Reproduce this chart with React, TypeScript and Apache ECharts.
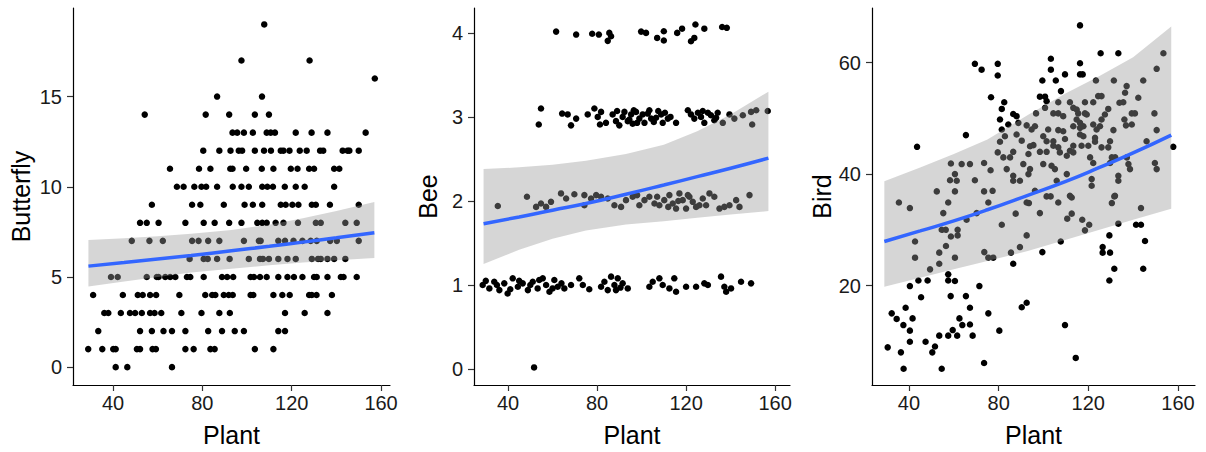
import React, { useEffect, useRef } from "react";
import * as echarts from "echarts";

// ---------- data ----------
const plantTicks = [40, 80, 120, 160];
const butterflyTicks = [0, 5, 10, 15];
const beeTicks = [0, 1, 2, 3, 4];
const birdTicks = [20, 40, 60];

const butterflyPoints: [number, number][] = [
  [107.7, 19], [97.5, 17], [128, 17], [157.2, 16], [86.6, 15], [106.7, 15],
  [54.2, 14], [81.5, 14], [92, 14], [103.5, 14], [109.8, 14],
  [93.5, 13], [95.6, 13], [98.6, 13], [102.6, 13], [108.8, 13], [110.6, 13], [112.5, 13], [121.8, 13], [128.9, 13], [136, 13], [153.1, 13],
  [80.4, 12], [87.6, 12], [92.6, 12], [96.3, 12], [97.8, 12], [103.5, 12], [107.6, 12], [110.7, 12], [115.1, 12], [116.3, 12], [119, 12], [123.6, 12], [126.7, 12], [132.7, 12], [134.1, 12], [142.8, 12], [145, 12], [145.8, 12], [150, 12],
  [65.5, 11], [78.5, 11], [83.6, 11], [92.5, 11], [93.5, 11], [99.6, 11], [106.6, 11], [111.8, 11], [119.6, 11], [122.6, 11], [127.8, 11], [130, 11], [139, 11], [141.3, 11],
  [68.6, 10], [71.6, 10], [76.4, 10], [79.6, 10], [81.7, 10], [86.6, 10], [93.6, 10], [97.5, 10], [100.8, 10], [106.8, 10], [109.1, 10], [111.6, 10], [116.9, 10], [121.8, 10], [125.8, 10], [139, 10],
  [57.4, 9], [75.4, 9], [79.1, 9], [89.6, 9], [98.9, 9], [102.6, 9], [106.8, 9], [115.1, 9], [117.3, 9], [120.3, 9], [123, 9], [129, 9], [130.8, 9], [137.1, 9], [150, 9],
  [52.1, 8], [55.1, 8], [60.4, 8], [72.4, 8], [80.6, 8], [85.5, 8], [92, 8], [97.5, 8], [104.6, 8], [106.8, 8], [108.8, 8], [112.8, 8], [116.3, 8], [122.8, 8], [130.8, 8], [133, 8], [144, 8], [149.1, 8],
  [48.4, 7], [56.3, 7], [62.3, 7], [75.4, 7], [78.3, 7], [82.6, 7], [87.6, 7], [98.6, 7], [105.3, 7], [106.1, 7], [114, 7], [117, 7], [120.8, 7], [124.8, 7], [128.5, 7], [131.2, 7], [137.2, 7], [140.2, 7], [150, 7],
  [74.3, 6], [80.6, 6], [82.4, 6], [86.6, 6], [92.2, 6], [100.8, 6], [105.8, 6], [107.1, 6], [109.8, 6], [114, 6], [118.1, 6], [121.8, 6], [129, 6], [131.8, 6], [133, 6], [136, 6], [139, 6], [144, 6],
  [39.1, 5], [42.1, 5], [55.1, 5], [59.6, 5], [60.4, 5], [63.4, 5], [65.6, 5], [67.9, 5], [73.1, 5], [74.6, 5], [80.6, 5], [88.8, 5], [91.1, 5], [93.8, 5], [101.6, 5], [103.1, 5], [105.8, 5], [108.8, 5], [114, 5], [118.1, 5], [121, 5], [124.8, 5], [130, 5], [131.2, 5], [136, 5], [142, 5], [143.2, 5], [149.1, 5],
  [31.1, 4], [44.4, 4], [51.1, 4], [53.3, 4], [56.6, 4], [59.3, 4], [69.7, 4], [81.3, 4], [84.4, 4], [85.8, 4], [89.6, 4], [91.8, 4], [93.6, 4], [101.6, 4], [102.8, 4], [111.8, 4], [115.8, 4], [119.1, 4], [127.8, 4], [129, 4], [131.1, 4], [138, 4],
  [36.1, 3], [37.9, 3], [43.5, 3], [47.6, 3], [49.9, 3], [52.9, 3], [56.6, 3], [58.6, 3], [61.6, 3], [70.6, 3], [79.6, 3], [87.6, 3], [92.3, 3], [117, 3], [125.8, 3], [136, 3],
  [33.4, 2], [52.1, 2], [57.4, 2], [62.6, 2], [66.4, 2], [72.4, 2], [82.6, 2], [88.8, 2], [94.5, 2], [98.6, 2], [114, 2], [117, 2],
  [28.9, 1], [35.2, 1], [40.1, 1], [41.2, 1], [50.7, 1], [52.1, 1], [57.7, 1], [59.2, 1], [72.4, 1], [76.1, 1], [83.6, 1], [85.5, 1], [103.5, 1], [111.8, 1],
  [41.2, 0], [46.4, 0], [66.4, 0],
];

const beePoints: [number, number][] = [
  [61.6, 4.015], [70.6, 3.98], [77.8, 3.99], [80.8, 3.98], [85.5, 4.0], [86.3, 3.96], [84.8, 3.905], [99.8, 4.015], [102, 4.0], [107, 3.94], [110, 4.02], [110, 3.91], [116, 4.0], [118.2, 4.05], [122.2, 3.9], [123.7, 3.94], [124.2, 4.1], [128.2, 4.05], [136.2, 4.07], [138.3, 4.06],
  [54.8, 3.1], [53.8, 2.91], [64.3, 3.04], [66.8, 3.03], [68.3, 2.9], [70.6, 2.98], [75.8, 3.03], [78.8, 3.1], [80.3, 3.0], [81.8, 3.06], [81.3, 2.91], [84, 2.93], [87, 3.03], [88.5, 2.95], [90, 2.9], [91.5, 3.0], [92.3, 3.06], [93.8, 2.95], [95.3, 3.03], [96, 2.92], [97.5, 3.06], [99, 2.98], [100.5, 3.03], [101.3, 2.93], [102.8, 3.04], [104.3, 2.98], [106.5, 2.99], [108.8, 3.03], [109.5, 2.93], [111.8, 2.98], [115.5, 2.93], [120.8, 3.08], [122.2, 3.03], [123.7, 2.98], [125.3, 3.05], [126.7, 3.0], [128.2, 2.93], [129.8, 3.05], [131.2, 3.02], [132.7, 2.96], [134.2, 3.05], [136.5, 2.93], [139.5, 3.03], [141.7, 2.98], [145.5, 3.02], [149.2, 3.06], [149.7, 2.91], [151.5, 3.08], [156.7, 3.07], [96.5, 3.08], [98, 2.93], [103.5, 3.08], [105.5, 2.94], [107.5, 3.07], [110.5, 3.05], [113, 3.0], [89, 3.07], [94.5, 2.97], [127.5, 3.07], [133.5, 2.99],
  [35.4, 1.94], [48.5, 2.05], [52.6, 1.93], [54.8, 1.97], [57.1, 1.93], [59.3, 1.99], [63.8, 2.09], [66.1, 2.03], [69.8, 2.08], [74.3, 2.07], [74.3, 1.95], [77.3, 2.03], [79.6, 2.07], [81.8, 2.05], [84.8, 2.03], [87.8, 1.95], [90.8, 1.93], [93, 2.01], [96, 2.05], [99, 1.95], [101.3, 2.01], [103.5, 2.05], [105.8, 1.97], [108, 1.95], [110.2, 2.01], [112.5, 2.07], [114, 1.97], [115.5, 1.91], [117, 2.09], [118.5, 2.01], [120, 1.91], [121.5, 2.05], [124.5, 1.93], [127.5, 2.03], [129, 1.95], [130.5, 2.09], [132.7, 2.05], [135, 1.91], [137.2, 1.93], [139.5, 1.95], [142.5, 2.01], [144, 1.93], [148.5, 2.07], [98, 2.07], [107, 2.05], [112, 1.93], [116.5, 2.0], [120.8, 2.07], [123, 1.99], [126, 1.95],
  [28.6, 1.0], [31.6, 0.96], [33.8, 1.04], [36.1, 0.94], [38.3, 1.02], [39.8, 0.9], [42.1, 1.08], [44.4, 0.98], [46.6, 1.02], [48.9, 0.94], [51.1, 1.04], [53.3, 0.96], [55.6, 1.08], [57.1, 1.0], [58.6, 0.92], [60.8, 1.06], [62.3, 0.98], [65.3, 0.96], [68.3, 1.0], [72, 1.08], [73.6, 1.0], [76.5, 0.95], [81.8, 0.98], [83.3, 1.04], [84.8, 0.94], [86.3, 1.1], [87.8, 1.0], [89.3, 1.08], [91.5, 1.02], [93.8, 0.96], [103.5, 0.98], [105, 1.04], [108, 1.08], [109.5, 1.0], [112.5, 0.96], [114.7, 1.08], [115.5, 0.92], [120, 0.98], [124.5, 0.98], [128.2, 1.02], [129.8, 1.0], [135.7, 1.1], [137.2, 0.98], [138, 0.92], [140.2, 0.96], [144.7, 1.04], [149.2, 1.02], [30, 1.05], [35, 1.0], [41, 0.95], [45, 1.05], [50, 1.0], [54, 1.06], [60, 0.96], [64, 1.02], [88.5, 0.94], [90.5, 0.97],
  [51.7, 0.02],
];

const birdPoints: [number, number][] = [
  [69.4, 59.8], [72.4, 58.75], [79.6, 59.8], [79.6, 57.7], [76.6, 53.8], [82.5, 52.9], [81.4, 51.7], [86.5, 50.8], [88, 50.4], [80.6, 49.8], [65.4, 47], [43.6, 44.9], [84.3, 48.9], [81.4, 48], [88.8, 49.2], [92.5, 48.75], [94.7, 48], [82.8, 46.8], [88, 47.1], [80.6, 45.8], [90.3, 46], [94, 45], [79.6, 43.9], [82.1, 43], [85.1, 43], [86.5, 44], [93.3, 43.6], [91, 41.8], [94, 40.9], [58.7, 41.9], [63.5, 41.8], [67.2, 41.8], [73.5, 42], [76.4, 40.7], [83.6, 40.9], [60.5, 40], [58.3, 38.9], [61.3, 38.8], [69.4, 38.9], [86.5, 39.7], [86.5, 38.8], [89.5, 38.8], [93.3, 40], [52.4, 36.9], [60.5, 36.9], [73.5, 36.9], [77.3, 37],
  [116.3, 66.7], [125.5, 61.7], [133.4, 61.7], [153.5, 61.7], [103.3, 60.7], [116.3, 59.9], [103.3, 58.75], [109.6, 57.9], [116.3, 57.9], [117.5, 57.9], [99.5, 56.8], [105.5, 56.8], [123.4, 56.8], [131.4, 56.8], [144.5, 56.8], [150.5, 58.9], [137.1, 55.8], [107.8, 54.9], [136.4, 54.6], [98.4, 53.9], [100.7, 53.9], [124.4, 54], [125.9, 54], [142.3, 53.7], [101.4, 53.1], [106.6, 52.9], [111.8, 52.9], [118.5, 52.9], [122.2, 52.9], [133.9, 52.8], [135.6, 52.9], [100.7, 51.9], [113.3, 51.9], [114.8, 51.6], [128.9, 51.7], [96.7, 50.9], [104.4, 50.9], [106.6, 50.9], [108.8, 50.4], [115.5, 50.9], [118.5, 50.9], [119.3, 50.7], [127.4, 50.7], [125.9, 49.8], [139.4, 50.9], [140.8, 50.9], [149.5, 50.9], [136.1, 49.8], [136.8, 48.75], [114.8, 49.8], [116.3, 49.2], [113.3, 48.6], [117.8, 48.6], [116.3, 48.3], [122.2, 48.9], [123.7, 48], [125.2, 48.6], [139.4, 48.9], [96.2, 48.6], [102.1, 48], [106.6, 47.9], [108.8, 47.7], [131.2, 47.9], [150.5, 47.9], [99.9, 46.8], [101.4, 45.9], [104.4, 45.9], [109.6, 46.3], [116.3, 47.1], [117.8, 46.8], [123, 46.5], [123, 45.8], [129.7, 45.9], [128.9, 44.8], [125.9, 44.8], [146, 45.9], [157.9, 44.9], [95.5, 45.2], [104.4, 45.1], [106.6, 44.8], [113.3, 45.1], [117, 45.1], [120, 45.1], [98.4, 44], [101.4, 44], [107.3, 43.9], [111.8, 44.2], [113.3, 43.9], [110.4, 43.3], [120.8, 43], [130.5, 43], [132, 43], [137.2, 43], [99.9, 41.8], [103.6, 41.5], [122.2, 42], [129.7, 42], [137.9, 41.8], [149.7, 42], [150.5, 40.9], [138.6, 40.9], [105.1, 40.9], [110.4, 40], [133.4, 39.7], [133.4, 38.8], [105.9, 38.8], [121.5, 39.1], [121.5, 37.9], [96.2, 37], [111.8, 36.1], [131.9, 36.1],
  [35.5, 34.9], [40.4, 33.9], [57.5, 34.9], [75.4, 34.9], [92.5, 34.9], [93.5, 34.8], [55.3, 33], [70.2, 33], [87.6, 32.9], [65.7, 31.8], [81.4, 30.9], [54.6, 30], [56.4, 30], [61.7, 30], [58.7, 28.8], [61.7, 29], [92.5, 29], [42.7, 27.9], [56.5, 27.1], [89.5, 26.9], [53.5, 25.9], [73.6, 26], [85.5, 25.9], [42.7, 25], [60.5, 25], [75.4, 25], [77.6, 25], [53.5, 23.9], [49.4, 22.9], [86.5, 23.9], [57.5, 22], [57.5, 20.9], [60.5, 20.8], [44.2, 20.9], [48.3, 20.9], [40.4, 19.9], [71.4, 19.9], [45.4, 17.9], [58.6, 18.1], [65.4, 18.1], [38.5, 16], [67.2, 16], [90.3, 16.1], [92.5, 16.9], [32.3, 15], [34.5, 14], [41.6, 14.1], [75.4, 15], [37.5, 12.9], [62.5, 14.1], [63.8, 12.9], [67.2, 13], [40.4, 11.9], [59.5, 12], [80.3, 11.9], [53.5, 11], [57.5, 11], [61.5, 11], [68.4, 11], [40.4, 9.9], [47.4, 9.9], [51.6, 9.05], [50.4, 8.0], [30.5, 8.9], [36.4, 8.0], [37.6, 5.05], [54.6, 5.05], [73.5, 6.1],
  [101.4, 36], [103.2, 36], [112.6, 35.8], [106.6, 34.9], [131.6, 36], [130.5, 34.8], [143.5, 33.9], [98.4, 33], [112.6, 32.9], [110.6, 32], [117.3, 31.8], [120.4, 30.9], [118.5, 29.9], [133.4, 31.1], [141.3, 30.9], [143.5, 30.9], [107.7, 27.9], [129.4, 29], [145.3, 28], [99.5, 26], [126.4, 26.9], [126.4, 25.9], [129.7, 25.9], [131.6, 23], [144.5, 23], [129.4, 20.9], [109.6, 12.9], [114.4, 7],
];

// smoother (fit and confidence band) read at these Plant values
const fitX = [29, 45, 60, 75, 93, 110, 125, 140, 157];
const butterflyFit = [5.6, 5.8, 5.99, 6.19, 6.45, 6.7, 6.93, 7.17, 7.45];
const butterflyUpper = [7.05, 7.15, 7.25, 7.4, 7.6, 7.9, 8.25, 8.65, 9.15];
const butterflyLower = [4.47, 4.75, 5.0, 5.25, 5.45, 5.65, 5.8, 5.92, 6.05];
const beeFit = [1.73, 1.81, 1.89, 1.97, 2.08, 2.19, 2.29, 2.39, 2.51];
const beeUpper = [2.38, 2.4, 2.43, 2.48, 2.56, 2.67, 2.83, 3.03, 3.3];
const beeLower = [1.25, 1.42, 1.55, 1.65, 1.72, 1.76, 1.8, 1.84, 1.88];
const birdFit = [27.9, 29.8, 31.6, 33.6, 36.2, 38.7, 41.2, 43.8, 47.0];
const birdUpper = [38.7, 41.2, 43.6, 46.2, 50.6, 54.5, 57.6, 61.0, 66.5];
const birdLower = [19.8, 21.4, 22.9, 24.4, 26.2, 28.2, 30.0, 31.8, 33.8];

// ---------- layout ----------
const FONT = "Liberation Sans, Arial, sans-serif";

const panels = [
  { name: "Butterfly", points: butterflyPoints, fit: butterflyFit, upper: butterflyUpper, lower: butterflyLower, yTicks: butterflyTicks,
    grid: { left: 73, top: 8, width: 317, height: 379 }, xMin: 22.09, xMax: 164.0, yMin: -0.99, yMax: 19.91, nameGap: 40 },
  { name: "Bee", points: beePoints, fit: beeFit, upper: beeUpper, lower: beeLower, yTicks: beeTicks,
    grid: { left: 474, top: 8, width: 316, height: 379 }, xMin: 24.7, xMax: 166.7, yMin: -0.189, yMax: 4.296, nameGap: 34 },
  { name: "Bird", points: birdPoints, fit: birdFit, upper: birdUpper, lower: birdLower, yTicks: birdTicks,
    grid: { left: 872, top: 8, width: 323, height: 379 }, xMin: 23.5, xMax: 167.6, yMin: 2.14, yMax: 69.82, nameGap: 34 },
];

export default function App() {
  const ref = useRef<HTMLDivElement>(null);
  useEffect(() => {
    if (!ref.current) return;
    const chart = echarts.init(ref.current, undefined, { renderer: "svg" });
    const grid: any[] = [];
    const xAxis: any[] = [];
    const yAxis: any[] = [];
    const series: any[] = [];
    panels.forEach((p, i) => {
      grid.push({ ...p.grid, containLabel: false });
      xAxis.push({
        type: "value", gridIndex: i, min: p.xMin, max: p.xMax,
        name: "Plant", nameLocation: "middle", nameGap: 37,
        nameTextStyle: { fontSize: 25, color: "#000", fontFamily: FONT },
        axisLine: { show: true, onZero: false, lineStyle: { color: "#000", width: 1.2 } },
        axisTick: { show: true, length: 6, customValues: plantTicks, lineStyle: { color: "#333", width: 1.2 } },
        axisLabel: { customValues: plantTicks, fontSize: 20, color: "#1a1a1a", fontFamily: FONT, margin: 8 },
        splitLine: { show: false },
      });
      yAxis.push({
        type: "value", gridIndex: i, min: p.yMin, max: p.yMax,
        name: p.name, nameLocation: "middle", nameGap: p.nameGap,
        nameTextStyle: { fontSize: 25, color: "#000", fontFamily: FONT },
        axisLine: { show: true, onZero: false, lineStyle: { color: "#000", width: 1.2 } },
        axisTick: { show: true, length: 6, customValues: p.yTicks, lineStyle: { color: "#333", width: 1.2 } },
        axisLabel: { customValues: p.yTicks, fontSize: 20, color: "#1a1a1a", fontFamily: FONT, margin: 11 },
        splitLine: { show: false },
      });
      series.push({
        type: "scatter", xAxisIndex: i, yAxisIndex: i, data: p.points,
        symbolSize: 6.5, itemStyle: { color: "#000", opacity: 1 }, z: 2,
      });
      const upper = p.upper;
      const lower = p.lower;
      series.push({
        type: "custom", xAxisIndex: i, yAxisIndex: i, z: 3,
        data: [[fitX[0], upper[0]]],
        renderItem: (_params: any, api: any) => {
          const top = fitX.map((x, k) => api.coord([x, upper[k]]));
          const bottom = fitX.map((x, k) => api.coord([x, lower[k]])).reverse();
          return {
            type: "polygon",
            shape: { points: top.concat(bottom) },
            style: { fill: "rgba(153,153,153,0.4)", stroke: "none" },
          };
        },
      });
      series.push({
        type: "line", xAxisIndex: i, yAxisIndex: i, z: 4,
        data: fitX.map((x, k) => [x, p.fit[k]]),
        smooth: true, showSymbol: false, symbol: "none",
        lineStyle: { color: "#3366FF", width: 3.5 },
      });
    });
    chart.setOption({
      animation: false,
      backgroundColor: "#fff",
      grid, xAxis, yAxis, series,
    });
    return () => chart.dispose();
  }, []);
  return (
    <div
      ref={ref}
      style={{ position: "fixed", left: 0, top: 0, width: 1206, height: 452, background: "#fff" }}
    />
  );
}
